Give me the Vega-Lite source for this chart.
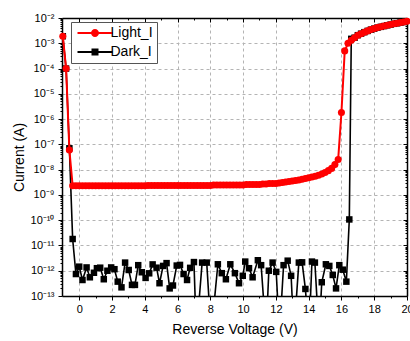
{
  "$schema": "https://vega.github.io/schema/vega-lite/v6.json",
  "width": 345,
  "height": 278,
  "autosize": {"type": "none"},
  "padding": {"left": 62, "top": 18, "right": 3, "bottom": 45},
  "background": "white",
  "config": {
    "font": "Liberation Sans",
    "view": {"stroke": null},
    "axis": {
      "domainColor": "black",
      "domainWidth": 1.5,
      "tickColor": "black",
      "tickWidth": 1,
      "labelFont": "Liberation Sans",
      "labelFontSize": 11,
      "labelColor": "black",
      "labelPadding": 3,
      "labelOverlap": false,
      "labelFlush": false,
      "titleFont": "Liberation Sans",
      "titleFontSize": 14,
      "titleFontWeight": "normal",
      "titleColor": "black",
      "gridColor": "#b4b4b4",
      "gridDash": [3, 3],
      "gridWidth": 1
    }
  },
  "data": {
    "values": [
      {"V": -1.0, "I": 1.9e-3, "s": "Dark_I"},
      {"V": -0.8, "I": 1.0e-4, "s": "Dark_I"},
      {"V": -0.6, "I": 7.0e-8, "s": "Dark_I"},
      {"V": -0.4, "I": 1.8e-11, "s": "Dark_I"},
      {"V": -0.2, "I": 7.4e-13, "s": "Dark_I"},
      {"V": 0.0, "I": 1.45e-12, "s": "Dark_I"},
      {"V": 0.2, "I": 4.3e-13, "s": "Dark_I"},
      {"V": 0.45, "I": 1.35e-12, "s": "Dark_I"},
      {"V": 0.65, "I": 5.5e-13, "s": "Dark_I"},
      {"V": 0.9, "I": 8.3e-13, "s": "Dark_I"},
      {"V": 1.08, "I": 1.26e-12, "s": "Dark_I"},
      {"V": 1.28, "I": 1.32e-12, "s": "Dark_I"},
      {"V": 1.5, "I": 4.6e-13, "s": "Dark_I"},
      {"V": 1.72, "I": 1.0e-12, "s": "Dark_I"},
      {"V": 1.95, "I": 1.35e-12, "s": "Dark_I"},
      {"V": 2.15, "I": 1.15e-12, "s": "Dark_I"},
      {"V": 2.35, "I": 3.7e-13, "s": "Dark_I"},
      {"V": 2.58, "I": 2.2e-13, "s": "Dark_I"},
      {"V": 2.8, "I": 2.1e-12, "s": "Dark_I"},
      {"V": 3.02, "I": 1.07e-12, "s": "Dark_I"},
      {"V": 3.22, "I": 2.75e-13, "s": "Dark_I"},
      {"V": 3.4, "I": 2.75e-13, "s": "Dark_I"},
      {"V": 3.6, "I": 1.66e-12, "s": "Dark_I"},
      {"V": 3.82, "I": 8.7e-13, "s": "Dark_I"},
      {"V": 4.05, "I": 5.2e-13, "s": "Dark_I"},
      {"V": 4.27, "I": 7.9e-13, "s": "Dark_I"},
      {"V": 4.48, "I": 1.78e-12, "s": "Dark_I"},
      {"V": 4.72, "I": 1.32e-12, "s": "Dark_I"},
      {"V": 4.9, "I": 3.2e-13, "s": "Dark_I"},
      {"V": 5.12, "I": 1.55e-12, "s": "Dark_I"},
      {"V": 5.33, "I": 2.0e-12, "s": "Dark_I"},
      {"V": 5.52, "I": 2.0e-13, "s": "Dark_I"},
      {"V": 5.72, "I": 2.6e-13, "s": "Dark_I"},
      {"V": 5.95, "I": 1.6e-12, "s": "Dark_I"},
      {"V": 6.15, "I": 1.7e-12, "s": "Dark_I"},
      {"V": 6.37, "I": 7.4e-13, "s": "Dark_I"},
      {"V": 6.58, "I": 4.3e-13, "s": "Dark_I"},
      {"V": 6.77, "I": 1.3e-12, "s": "Dark_I"},
      {"V": 7.0, "I": 2.2e-12, "s": "Dark_I"},
      {"V": 7.15, "I": 3e-15, "s": "Dark_I"},
      {"V": 7.5, "I": 2.1e-12, "s": "Dark_I"},
      {"V": 7.78, "I": 2.1e-12, "s": "Dark_I"},
      {"V": 8.05, "I": 3e-15, "s": "Dark_I"},
      {"V": 8.46, "I": 1.8e-12, "s": "Dark_I"},
      {"V": 8.7, "I": 8.0e-13, "s": "Dark_I"},
      {"V": 8.95, "I": 4.6e-13, "s": "Dark_I"},
      {"V": 9.22, "I": 1.8e-12, "s": "Dark_I"},
      {"V": 9.5, "I": 8.0e-13, "s": "Dark_I"},
      {"V": 9.75, "I": 3.2e-13, "s": "Dark_I"},
      {"V": 9.98, "I": 6.3e-13, "s": "Dark_I"},
      {"V": 10.13, "I": 2.3e-12, "s": "Dark_I"},
      {"V": 10.36, "I": 1.26e-12, "s": "Dark_I"},
      {"V": 10.58, "I": 5.5e-13, "s": "Dark_I"},
      {"V": 10.9, "I": 2.6e-12, "s": "Dark_I"},
      {"V": 11.1, "I": 1.66e-12, "s": "Dark_I"},
      {"V": 11.4, "I": 3e-15, "s": "Dark_I"},
      {"V": 11.57, "I": 1.0e-12, "s": "Dark_I"},
      {"V": 11.8, "I": 2.1e-12, "s": "Dark_I"},
      {"V": 12.02, "I": 9.0e-13, "s": "Dark_I"},
      {"V": 12.22, "I": 3e-15, "s": "Dark_I"},
      {"V": 12.47, "I": 1.66e-12, "s": "Dark_I"},
      {"V": 12.72, "I": 2.5e-12, "s": "Dark_I"},
      {"V": 12.93, "I": 6.3e-13, "s": "Dark_I"},
      {"V": 13.1, "I": 3e-15, "s": "Dark_I"},
      {"V": 13.4, "I": 2.1e-12, "s": "Dark_I"},
      {"V": 13.6, "I": 2.15e-12, "s": "Dark_I"},
      {"V": 13.8, "I": 1.9e-13, "s": "Dark_I"},
      {"V": 14.02, "I": 3e-15, "s": "Dark_I"},
      {"V": 14.2, "I": 2.3e-12, "s": "Dark_I"},
      {"V": 14.38, "I": 2.1e-12, "s": "Dark_I"},
      {"V": 14.63, "I": 3e-15, "s": "Dark_I"},
      {"V": 14.8, "I": 3.5e-13, "s": "Dark_I"},
      {"V": 15.05, "I": 1.8e-12, "s": "Dark_I"},
      {"V": 15.26, "I": 1.55e-12, "s": "Dark_I"},
      {"V": 15.47, "I": 6.8e-13, "s": "Dark_I"},
      {"V": 15.67, "I": 2.0e-13, "s": "Dark_I"},
      {"V": 15.87, "I": 1.66e-12, "s": "Dark_I"},
      {"V": 16.08, "I": 1.1e-12, "s": "Dark_I"},
      {"V": 16.3, "I": 3.7e-13, "s": "Dark_I"},
      {"V": 16.48, "I": 1.07e-10, "s": "Dark_I"},
      {"V": 16.6, "I": 1.5e-3, "s": "Dark_I"},
      {"V": 16.8, "I": 1.66e-3, "s": "Dark_I"},
      {"V": 17.0, "I": 2.09e-3, "s": "Dark_I"},
      {"V": 17.2, "I": 2.4e-3, "s": "Dark_I"},
      {"V": 17.4, "I": 2.75e-3, "s": "Dark_I"},
      {"V": 17.6, "I": 3.09e-3, "s": "Dark_I"},
      {"V": 17.8, "I": 3.47e-3, "s": "Dark_I"},
      {"V": 18.0, "I": 3.8e-3, "s": "Dark_I"},
      {"V": 18.2, "I": 4.17e-3, "s": "Dark_I"},
      {"V": 18.4, "I": 4.47e-3, "s": "Dark_I"},
      {"V": 18.6, "I": 4.79e-3, "s": "Dark_I"},
      {"V": 18.8, "I": 5.13e-3, "s": "Dark_I"},
      {"V": 19.0, "I": 5.5e-3, "s": "Dark_I"},
      {"V": 19.2, "I": 5.89e-3, "s": "Dark_I"},
      {"V": 19.4, "I": 6.17e-3, "s": "Dark_I"},
      {"V": 19.6, "I": 6.61e-3, "s": "Dark_I"},
      {"V": 19.8, "I": 6.92e-3, "s": "Dark_I"},
      {"V": 20.0, "I": 7.41e-3, "s": "Dark_I"},

      {"V": -1.0, "I": 1.9e-3, "s": "Light_I"},
      {"V": -0.8, "I": 1.0e-4, "s": "Light_I"},
      {"V": -0.6, "I": 6.0e-8, "s": "Light_I"},
      {"V": -0.4, "I": 2.3e-9, "s": "Light_I"},
      {"V": -0.2, "I": 2.29e-9, "s": "Light_I"},
      {"V": 0.0, "I": 2.29e-9, "s": "Light_I"},
      {"V": 0.2, "I": 2.29e-9, "s": "Light_I"},
      {"V": 0.4, "I": 2.29e-9, "s": "Light_I"},
      {"V": 0.6, "I": 2.29e-9, "s": "Light_I"},
      {"V": 0.8, "I": 2.29e-9, "s": "Light_I"},
      {"V": 1.0, "I": 2.29e-9, "s": "Light_I"},
      {"V": 1.2, "I": 2.29e-9, "s": "Light_I"},
      {"V": 1.4, "I": 2.29e-9, "s": "Light_I"},
      {"V": 1.6, "I": 2.29e-9, "s": "Light_I"},
      {"V": 1.8, "I": 2.29e-9, "s": "Light_I"},
      {"V": 2.0, "I": 2.29e-9, "s": "Light_I"},
      {"V": 2.2, "I": 2.29e-9, "s": "Light_I"},
      {"V": 2.4, "I": 2.29e-9, "s": "Light_I"},
      {"V": 2.6, "I": 2.29e-9, "s": "Light_I"},
      {"V": 2.8, "I": 2.29e-9, "s": "Light_I"},
      {"V": 3.0, "I": 2.29e-9, "s": "Light_I"},
      {"V": 3.2, "I": 2.29e-9, "s": "Light_I"},
      {"V": 3.4, "I": 2.29e-9, "s": "Light_I"},
      {"V": 3.6, "I": 2.29e-9, "s": "Light_I"},
      {"V": 3.8, "I": 2.29e-9, "s": "Light_I"},
      {"V": 4.0, "I": 2.29e-9, "s": "Light_I"},
      {"V": 4.2, "I": 2.34e-9, "s": "Light_I"},
      {"V": 4.4, "I": 2.34e-9, "s": "Light_I"},
      {"V": 4.6, "I": 2.34e-9, "s": "Light_I"},
      {"V": 4.8, "I": 2.34e-9, "s": "Light_I"},
      {"V": 5.0, "I": 2.34e-9, "s": "Light_I"},
      {"V": 5.2, "I": 2.34e-9, "s": "Light_I"},
      {"V": 5.4, "I": 2.34e-9, "s": "Light_I"},
      {"V": 5.6, "I": 2.34e-9, "s": "Light_I"},
      {"V": 5.8, "I": 2.34e-9, "s": "Light_I"},
      {"V": 6.0, "I": 2.34e-9, "s": "Light_I"},
      {"V": 6.2, "I": 2.34e-9, "s": "Light_I"},
      {"V": 6.4, "I": 2.34e-9, "s": "Light_I"},
      {"V": 6.6, "I": 2.34e-9, "s": "Light_I"},
      {"V": 6.8, "I": 2.34e-9, "s": "Light_I"},
      {"V": 7.0, "I": 2.34e-9, "s": "Light_I"},
      {"V": 7.2, "I": 2.34e-9, "s": "Light_I"},
      {"V": 7.4, "I": 2.34e-9, "s": "Light_I"},
      {"V": 7.6, "I": 2.34e-9, "s": "Light_I"},
      {"V": 7.8, "I": 2.34e-9, "s": "Light_I"},
      {"V": 8.0, "I": 2.34e-9, "s": "Light_I"},
      {"V": 8.2, "I": 2.45e-9, "s": "Light_I"},
      {"V": 8.4, "I": 2.45e-9, "s": "Light_I"},
      {"V": 8.6, "I": 2.45e-9, "s": "Light_I"},
      {"V": 8.8, "I": 2.45e-9, "s": "Light_I"},
      {"V": 9.0, "I": 2.45e-9, "s": "Light_I"},
      {"V": 9.2, "I": 2.45e-9, "s": "Light_I"},
      {"V": 9.4, "I": 2.45e-9, "s": "Light_I"},
      {"V": 9.6, "I": 2.45e-9, "s": "Light_I"},
      {"V": 9.8, "I": 2.45e-9, "s": "Light_I"},
      {"V": 10.0, "I": 2.45e-9, "s": "Light_I"},
      {"V": 10.2, "I": 2.57e-9, "s": "Light_I"},
      {"V": 10.4, "I": 2.57e-9, "s": "Light_I"},
      {"V": 10.6, "I": 2.57e-9, "s": "Light_I"},
      {"V": 10.8, "I": 2.57e-9, "s": "Light_I"},
      {"V": 11.0, "I": 2.57e-9, "s": "Light_I"},
      {"V": 11.2, "I": 2.7e-9, "s": "Light_I"},
      {"V": 11.4, "I": 2.7e-9, "s": "Light_I"},
      {"V": 11.6, "I": 2.82e-9, "s": "Light_I"},
      {"V": 11.8, "I": 2.82e-9, "s": "Light_I"},
      {"V": 12.0, "I": 2.82e-9, "s": "Light_I"},
      {"V": 12.2, "I": 2.95e-9, "s": "Light_I"},
      {"V": 12.4, "I": 3.09e-9, "s": "Light_I"},
      {"V": 12.6, "I": 3.24e-9, "s": "Light_I"},
      {"V": 12.8, "I": 3.39e-9, "s": "Light_I"},
      {"V": 13.0, "I": 3.55e-9, "s": "Light_I"},
      {"V": 13.2, "I": 3.72e-9, "s": "Light_I"},
      {"V": 13.4, "I": 3.89e-9, "s": "Light_I"},
      {"V": 13.6, "I": 4.17e-9, "s": "Light_I"},
      {"V": 13.8, "I": 4.47e-9, "s": "Light_I"},
      {"V": 14.0, "I": 4.79e-9, "s": "Light_I"},
      {"V": 14.2, "I": 5.13e-9, "s": "Light_I"},
      {"V": 14.4, "I": 5.5e-9, "s": "Light_I"},
      {"V": 14.6, "I": 6.03e-9, "s": "Light_I"},
      {"V": 14.8, "I": 6.76e-9, "s": "Light_I"},
      {"V": 15.0, "I": 7.76e-9, "s": "Light_I"},
      {"V": 15.2, "I": 9.12e-9, "s": "Light_I"},
      {"V": 15.4, "I": 1.12e-8, "s": "Light_I"},
      {"V": 15.6, "I": 1.58e-8, "s": "Light_I"},
      {"V": 15.8, "I": 2.51e-8, "s": "Light_I"},
      {"V": 16.0, "I": 1.82e-6, "s": "Light_I"},
      {"V": 16.2, "I": 5.0e-4, "s": "Light_I"},
      {"V": 16.4, "I": 1.0e-3, "s": "Light_I"},
      {"V": 16.6, "I": 1.32e-3, "s": "Light_I"},
      {"V": 16.8, "I": 1.66e-3, "s": "Light_I"},
      {"V": 17.0, "I": 2.09e-3, "s": "Light_I"},
      {"V": 17.2, "I": 2.4e-3, "s": "Light_I"},
      {"V": 17.4, "I": 2.75e-3, "s": "Light_I"},
      {"V": 17.6, "I": 3.09e-3, "s": "Light_I"},
      {"V": 17.8, "I": 3.47e-3, "s": "Light_I"},
      {"V": 18.0, "I": 3.8e-3, "s": "Light_I"},
      {"V": 18.2, "I": 4.17e-3, "s": "Light_I"},
      {"V": 18.4, "I": 4.47e-3, "s": "Light_I"},
      {"V": 18.6, "I": 4.79e-3, "s": "Light_I"},
      {"V": 18.8, "I": 5.13e-3, "s": "Light_I"},
      {"V": 19.0, "I": 5.5e-3, "s": "Light_I"},
      {"V": 19.2, "I": 5.89e-3, "s": "Light_I"},
      {"V": 19.4, "I": 6.17e-3, "s": "Light_I"},
      {"V": 19.6, "I": 6.61e-3, "s": "Light_I"},
      {"V": 19.8, "I": 6.92e-3, "s": "Light_I"},
      {"V": 20.0, "I": 7.41e-3, "s": "Light_I"}
    ]
  },
  "layer": [
    {
      "transform": [{"filter": "datum.s === 'Dark_I'"}],
      "mark": {"type": "line", "color": "#000000", "strokeWidth": 1.6, "clip": true},
      "encoding": {
        "x": {
          "field": "V", "type": "quantitative",
          "scale": {"domain": [-1.05, 20], "nice": false, "zero": false},
          "axis": {
            "orient": "bottom",
            "title": "Reverse Voltage (V)",
            "titlePadding": 8,
            "values": [0,1,2,3,4,5,6,7,8,9,10,11,12,13,14,15,16,17,18,19,20],
            "labelExpr": "datum.value % 2 === 0 ? datum.label : ''",
            "tickSize": {"condition": {"test": "datum.value % 2 === 0", "value": 4}, "value": 2},
            "grid": true,
            "gridOpacity": {"condition": {"test": "datum.value % 2 === 0", "value": 1}, "value": 0}
          }
        },
        "y": {
          "field": "I", "type": "quantitative",
          "scale": {"type": "log", "domain": [1e-13, 1e-2], "nice": false},
          "axis": {
            "orient": "left",
            "title": "Current (A)",
            "titlePadding": 4,
            "labelPadding": 4,
            "values": [1e-13,2e-13,3e-13,4e-13,5e-13,6e-13,7e-13,8e-13,9e-13,
                       1e-12,2e-12,3e-12,4e-12,5e-12,6e-12,7e-12,8e-12,9e-12,
                       1e-11,2e-11,3e-11,4e-11,5e-11,6e-11,7e-11,8e-11,9e-11,
                       1e-10,2e-10,3e-10,4e-10,5e-10,6e-10,7e-10,8e-10,9e-10,
                       1e-9,2e-9,3e-9,4e-9,5e-9,6e-9,7e-9,8e-9,9e-9,
                       1e-8,2e-8,3e-8,4e-8,5e-8,6e-8,7e-8,8e-8,9e-8,
                       1e-7,2e-7,3e-7,4e-7,5e-7,6e-7,7e-7,8e-7,9e-7,
                       1e-6,2e-6,3e-6,4e-6,5e-6,6e-6,7e-6,8e-6,9e-6,
                       1e-5,2e-5,3e-5,4e-5,5e-5,6e-5,7e-5,8e-5,9e-5,
                       1e-4,2e-4,3e-4,4e-4,5e-4,6e-4,7e-4,8e-4,9e-4,
                       1e-3,2e-3,3e-3,4e-3,5e-3,6e-3,7e-3,8e-3,9e-3,
                       1e-2],
            "labelExpr": "abs(log(datum.value)/LN10 - round(log(datum.value)/LN10)) < 0.01 ? ['10⁻²','10⁻³','10⁻⁴','10⁻⁵','10⁻⁶','10⁻⁷','10⁻⁸','10⁻⁹','10⁻¹⁰','10⁻¹¹','10⁻¹²','10⁻¹³'][-round(log(datum.value)/LN10) - 2] : ''",
            "tickSize": {"condition": {"test": "abs(log(datum.value)/LN10 - round(log(datum.value)/LN10)) < 0.01", "value": 4}, "value": 2},
            "grid": true,
            "gridOpacity": {"condition": {"test": "abs(log(datum.value)/LN10 - round(log(datum.value)/LN10)) < 0.01", "value": 1}, "value": 0}
          }
        }
      }
    },
    {
      "transform": [{"filter": "datum.s === 'Dark_I'"}],
      "mark": {"type": "point", "shape": "square", "filled": true, "size": 42, "opacity": 1, "color": "#000000", "clip": true},
      "encoding": {
        "x": {
          "field": "V", "type": "quantitative",
          "scale": {"domain": [-1.05, 20], "nice": false, "zero": false},
          "axis": {
            "orient": "top",
            "title": null,
            "labels": false,
            "grid": false,
            "values": [0,1,2,3,4,5,6,7,8,9,10,11,12,13,14,15,16,17,18,19,20],
            "tickSize": {"condition": {"test": "datum.value % 2 === 0", "value": -4}, "value": -2}
          }
        },
        "y": {
          "field": "I", "type": "quantitative",
          "scale": {"type": "log", "domain": [1e-13, 1e-2], "nice": false},
          "axis": {
            "orient": "right",
            "title": null,
            "labels": false,
            "grid": false,
            "values": [1e-13,2e-13,3e-13,4e-13,5e-13,6e-13,7e-13,8e-13,9e-13,
                       1e-12,2e-12,3e-12,4e-12,5e-12,6e-12,7e-12,8e-12,9e-12,
                       1e-11,2e-11,3e-11,4e-11,5e-11,6e-11,7e-11,8e-11,9e-11,
                       1e-10,2e-10,3e-10,4e-10,5e-10,6e-10,7e-10,8e-10,9e-10,
                       1e-9,2e-9,3e-9,4e-9,5e-9,6e-9,7e-9,8e-9,9e-9,
                       1e-8,2e-8,3e-8,4e-8,5e-8,6e-8,7e-8,8e-8,9e-8,
                       1e-7,2e-7,3e-7,4e-7,5e-7,6e-7,7e-7,8e-7,9e-7,
                       1e-6,2e-6,3e-6,4e-6,5e-6,6e-6,7e-6,8e-6,9e-6,
                       1e-5,2e-5,3e-5,4e-5,5e-5,6e-5,7e-5,8e-5,9e-5,
                       1e-4,2e-4,3e-4,4e-4,5e-4,6e-4,7e-4,8e-4,9e-4,
                       1e-3,2e-3,3e-3,4e-3,5e-3,6e-3,7e-3,8e-3,9e-3,
                       1e-2],
            "tickSize": {"condition": {"test": "abs(log(datum.value)/LN10 - round(log(datum.value)/LN10)) < 0.01", "value": -4}, "value": -2}
          }
        }
      }
    },
    {
      "transform": [{"filter": "datum.s === 'Light_I'"}],
      "mark": {"type": "line", "color": "#ff0000", "strokeWidth": 2, "clip": true},
      "encoding": {
        "x": {"field": "V", "type": "quantitative", "scale": {"domain": [-1.05, 20], "nice": false, "zero": false}, "axis": null},
        "y": {"field": "I", "type": "quantitative", "scale": {"type": "log", "domain": [1e-13, 1e-2], "nice": false}, "axis": null}
      }
    },
    {
      "transform": [{"filter": "datum.s === 'Light_I'"}],
      "mark": {"type": "point", "shape": "circle", "filled": true, "size": 50, "opacity": 1, "color": "#ff0000"},
      "encoding": {
        "x": {"field": "V", "type": "quantitative", "scale": {"domain": [-1.05, 20], "nice": false, "zero": false}, "axis": null},
        "y": {"field": "I", "type": "quantitative", "scale": {"type": "log", "domain": [1e-13, 1e-2], "nice": false}, "axis": null}
      }
    },
    {
      "transform": [{"filter": "false"}],
      "mark": {"type": "point", "filled": true, "opacity": 1},
      "encoding": {
        "x": {"field": "V", "type": "quantitative", "scale": {"domain": [-1.05, 20], "nice": false, "zero": false}, "axis": null},
        "y": {"field": "I", "type": "quantitative", "scale": {"type": "log", "domain": [1e-13, 1e-2], "nice": false}, "axis": null},
        "color": {
          "field": "s", "type": "nominal",
          "scale": {"domain": ["Light_I", "Dark_I"], "range": ["#ff0000", "#000000"]},
          "legend": {
            "orient": "none",
            "legendX": 9,
            "legendY": 4,
            "title": null,
            "direction": "vertical",
            "padding": 4,
            "strokeColor": "#555555",
            "fillColor": "white",
            "labelFont": "Liberation Sans",
            "labelFontSize": 14,
            "labelColor": "black",
            "symbolSize": 100,
            "symbolOffset": 13,
            "labelOffset": 8.5,
            "rowPadding": 5,
            "symbolStrokeWidth": 0
          }
        },
        "shape": {
          "field": "s", "type": "nominal",
          "scale": {
            "domain": ["Light_I", "Dark_I"],
            "range": [
              "M-3.5,-0.2H3.5V0.2H-3.5Z M-0.8,0A0.8,0.8 0 0,1 0.8,0A0.8,0.8 0 0,1 -0.8,0Z",
              "M-3.5,-0.18H3.5V0.18H-3.5Z M-0.7,-0.7H0.7V0.7H-0.7Z"
            ]
          },
          "legend": {
            "orient": "none",
            "legendX": 9,
            "legendY": 4,
            "title": null,
            "direction": "vertical",
            "padding": 4,
            "strokeColor": "#555555",
            "fillColor": "white",
            "labelFont": "Liberation Sans",
            "labelFontSize": 14,
            "labelColor": "black",
            "symbolSize": 100,
            "symbolOffset": 13,
            "labelOffset": 8.5,
            "rowPadding": 5,
            "symbolStrokeWidth": 0
          }
        }
      }
    }
  ],
  "resolve": {"axis": {"x": "independent", "y": "independent"}}
}
